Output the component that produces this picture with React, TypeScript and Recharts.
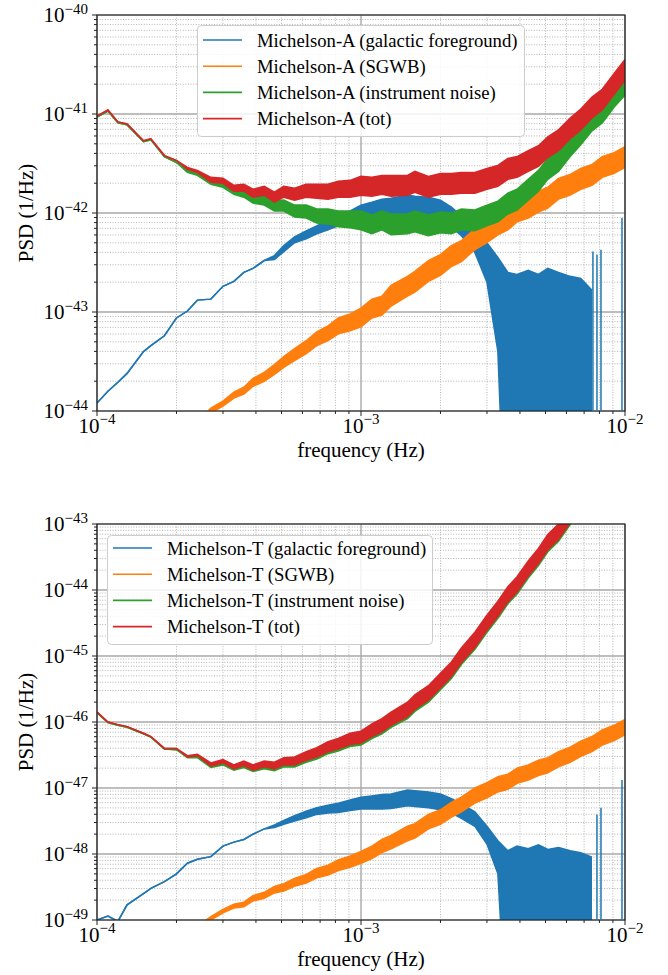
import React from 'react'
import {
  ComposedChart,
  Area,
  XAxis,
  YAxis,
  CartesianGrid,
  ReferenceArea,
  ReferenceLine,
  Legend,
} from 'recharts'

// frequency grid (Hz), shared by every series
const FREQ = [
  1.0e-4, 1.1e-4, 1.2e-4, 1.3e-4, 1.5e-4, 1.6e-4, 1.8e-4, 2.0e-4, 2.2e-4, 2.4e-4,
  2.7e-4, 3.0e-4, 3.3e-4, 3.6e-4, 3.9e-4, 4.3e-4, 4.7e-4, 5.1e-4, 5.6e-4, 6.2e-4,
  6.8e-4, 7.5e-4, 8.2e-4, 9.1e-4, 1.0e-3, 1.1e-3, 1.2e-3, 1.3e-3, 1.5e-3, 1.6e-3,
  1.8e-3, 2.0e-3, 2.2e-3, 2.4e-3, 2.7e-3, 3.0e-3, 3.3e-3, 3.6e-3, 3.9e-3, 4.3e-3,
  4.7e-3, 5.1e-3, 5.6e-3, 6.2e-3, 6.8e-3, 7.5e-3, 8.2e-3, 9.1e-3, 1.0e-2,
]

// values are log10(PSD); up/dn = extent of the noise band above/below, in decades
const RED_A = [
  -41.02, -40.96, -41.08, -41.10, -41.27, -41.25, -41.42, -41.47, -41.55, -41.58,
  -41.66, -41.68, -41.74, -41.75, -41.79, -41.78, -41.83, -41.79, -41.80, -41.78,
  -41.77, -41.79, -41.75, -41.76, -41.73, -41.72, -41.73, -41.71, -41.72, -41.70,
  -41.72, -41.71, -41.70, -41.71, -41.68, -41.66, -41.62, -41.57, -41.52, -41.48,
  -41.42, -41.35, -41.25, -41.15, -41.05, -40.95, -40.84, -40.70, -40.55,
]
const GREEN_A = [
  -41.03, -40.97, -41.09, -41.11, -41.28, -41.26, -41.43, -41.49, -41.58, -41.61,
  -41.68, -41.72, -41.77, -41.81, -41.85, -41.88, -41.92, -41.93, -41.97, -41.99,
  -42.02, -42.04, -42.05, -42.07, -42.08, -42.10, -42.09, -42.10, -42.11, -42.10,
  -42.11, -42.10, -42.10, -42.08, -42.06, -42.03, -41.98, -41.92, -41.85, -41.77,
  -41.67, -41.57, -41.46, -41.33, -41.20, -41.08, -40.97, -40.83, -40.70,
]
const ORANGE_A = [
  null, null, null, null, null, null, null, null, null, -44.12,
  -44.00, -43.92, -43.85, -43.79, -43.72, -43.65, -43.59, -43.50, -43.44, -43.35,
  -43.28, -43.21, -43.15, -43.10, -43.05, -42.98, -42.92, -42.85, -42.74, -42.68,
  -42.60, -42.52, -42.44, -42.37, -42.28, -42.19, -42.12, -42.05, -42.00, -41.94,
  -41.89, -41.83, -41.77, -41.71, -41.66, -41.60, -41.55, -41.49, -41.44,
]
const UP_A = [
  0, 0, 0, 0, 0, 0, 0, 0, 0.01, 0.01,
  0.02, 0.03, 0.02, 0.04, 0.03, 0.05, 0.04, 0.06, 0.05, 0.07,
  0.06, 0.08, 0.07, 0.09, 0.1, 0.08, 0.11, 0.09, 0.1, 0.12,
  0.09, 0.11, 0.1, 0.12, 0.09, 0.11, 0.1, 0.12, 0.09, 0.11,
  0.1, 0.12, 0.09, 0.11, 0.1, 0.12, 0.09, 0.11, 0.1,
]
const DN_A = [
  0, 0, 0, 0, 0, 0, 0, 0, 0.01, 0.01,
  0.03, 0.02, 0.04, 0.03, 0.05, 0.04, 0.06, 0.05, 0.07, 0.06,
  0.08, 0.07, 0.09, 0.08, 0.09, 0.11, 0.08, 0.12, 0.1, 0.09,
  0.12, 0.1, 0.11, 0.09, 0.12, 0.1, 0.11, 0.09, 0.12, 0.1,
  0.11, 0.09, 0.12, 0.1, 0.11, 0.09, 0.12, 0.1, 0.11,
]
const BLUE_A_HI = [
  -43.92, -43.80, -43.71, -43.62, -43.40, -43.34, -43.24, -43.06, -42.99, -42.88,
  -42.87, -42.74, -42.69, -42.60, -42.56, -42.48, -42.43, -42.33, -42.24, -42.18,
  -42.13, -42.07, -42.03, -41.98, -41.92, -41.89, -41.86, -41.85, -41.82, -41.83,
  -41.84, -41.87, -41.94, -42.03, -42.17, -42.30, -42.45, -42.60, -42.62, -42.58,
  -42.62, -42.56, -42.60, -42.64, -42.66, -42.78, null, null, null,
]
const BLUE_A_LO = [
  -43.92, -43.80, -43.71, -43.62, -43.40, -43.34, -43.24, -43.06, -42.99, -42.88,
  -42.87, -42.74, -42.69, -42.60, -42.56, -42.48, -42.47, -42.39, -42.30, -42.26,
  -42.21, -42.17, -42.13, -42.10, -42.08, -42.07, -42.06, -42.05, -42.02, -42.03,
  -42.04, -42.07, -42.14, -42.23, -42.40, -42.70, -43.40, -46, -46, -46,
  -46, -46, -46, -46, -46, -46, null, null, null,
]
const BLUE_A_SPIKE_F = [7.56e-3, 7.83e-3, 8.11e-3, 9.74e-3]
const BLUE_A_SPIKE_TOP = [-42.39, -42.42, -42.37, -42.05]

const RED_T = [
  -45.85, -46.00, -46.04, -46.07, -46.17, -46.22, -46.40, -46.40, -46.52, -46.50,
  -46.64, -46.60, -46.67, -46.63, -46.68, -46.64, -46.65, -46.60, -46.58, -46.52,
  -46.45, -46.38, -46.32, -46.26, -46.22, -46.13, -46.04, -45.96, -45.80, -45.71,
  -45.55, -45.38, -45.19, -45.00, -44.74, -44.50, -44.28, -44.08, -43.90, -43.68,
  -43.48, -43.29, -43.10, -42.87, -42.66, -42.45, -42.26, -42.04, -41.84,
]
const GREEN_T = [
  -45.86, -46.01, -46.05, -46.08, -46.18, -46.23, -46.41, -46.42, -46.53, -46.53,
  -46.66, -46.63, -46.69, -46.66, -46.70, -46.67, -46.68, -46.63, -46.61, -46.55,
  -46.48, -46.41, -46.35, -46.29, -46.25, -46.16, -46.07, -45.99, -45.83, -45.74,
  -45.58, -45.41, -45.22, -45.03, -44.77, -44.53, -44.31, -44.11, -43.93, -43.71,
  -43.51, -43.32, -43.13, -42.90, -42.69, -42.48, -42.29, -42.07, -41.87,
]
const ORANGE_T = [
  null, null, null, null, null, null, null, null, null, -49.10,
  -48.98, -48.86, -48.80, -48.76, -48.68, -48.62, -48.55, -48.50, -48.44, -48.37,
  -48.30, -48.24, -48.18, -48.11, -48.06, -47.97, -47.89, -47.81, -47.70, -47.64,
  -47.52, -47.43, -47.34, -47.24, -47.13, -47.03, -46.95, -46.89, -46.83, -46.76,
  -46.70, -46.64, -46.58, -46.49, -46.41, -46.32, -46.25, -46.16, -46.08,
]
const UP_T = [
  0, 0, 0, 0, 0, 0, 0, 0, 0.01, 0.01,
  0.02, 0.03, 0.02, 0.04, 0.03, 0.05, 0.04, 0.06, 0.05, 0.07,
  0.06, 0.08, 0.07, 0.09, 0.08, 0.1, 0.09, 0.11, 0.1, 0.12,
  0.1, 0.12, 0.1, 0.12, 0.1, 0.12, 0.11, 0.13, 0.1, 0.12,
  0.11, 0.13, 0.1, 0.12, 0.11, 0.13, 0.1, 0.12, 0.11,
]
const DN_T = [
  0, 0, 0, 0, 0, 0, 0, 0, 0.01, 0.01,
  0.03, 0.02, 0.04, 0.03, 0.05, 0.04, 0.06, 0.05, 0.07, 0.06,
  0.08, 0.07, 0.09, 0.08, 0.1, 0.09, 0.11, 0.09, 0.12, 0.1,
  0.12, 0.1, 0.12, 0.1, 0.13, 0.11, 0.12, 0.1, 0.13, 0.11,
  0.12, 0.1, 0.13, 0.11, 0.12, 0.1, 0.13, 0.11, 0.12,
]
const BLUE_T_HI = [
  -49.00, -48.94, -49.02, -48.77, -48.60, -48.52, -48.42, -48.30, -48.14, -48.08,
  -48.04, -47.88, -47.82, -47.78, -47.70, -47.62, -47.56, -47.49, -47.42, -47.35,
  -47.30, -47.26, -47.23, -47.18, -47.14, -47.12, -47.10, -47.09, -47.03, -47.04,
  -47.06, -47.09, -47.16, -47.24, -47.36, -47.58, -47.80, -47.95, -47.88, -47.92,
  -47.86, -47.93, -47.90, -47.95, -47.98, -48.05, null, null, null,
]
const BLUE_T_LO = [
  -49.00, -48.94, -49.02, -48.77, -48.60, -48.52, -48.42, -48.30, -48.14, -48.08,
  -48.04, -47.88, -47.82, -47.78, -47.70, -47.62, -47.60, -47.55, -47.50, -47.45,
  -47.40, -47.38, -47.37, -47.34, -47.32, -47.32, -47.32, -47.31, -47.27, -47.28,
  -47.30, -47.33, -47.38, -47.46, -47.58, -47.85, -48.30, -51, -51, -51,
  -51, -51, -51, -51, -51, -51, null, null, null,
]
const BLUE_T_SPIKE_F = [7.83e-3, 8.11e-3, 9.74e-3]
const BLUE_T_SPIKE_TOP = [-47.40, -47.30, -46.88]

const NAMES_A = [
  'Michelson-A (galactic foreground)',
  'Michelson-A (SGWB)',
  'Michelson-A (instrument noise)',
  'Michelson-A (tot)',
]
const NAMES_T = [
  'Michelson-T (galactic foreground)',
  'Michelson-T (SGWB)',
  'Michelson-T (instrument noise)',
  'Michelson-T (tot)',
]

const X_DECADES = [1e-4, 1e-3, 1e-2]
const Y_DECADES_A = [1e-44, 1e-43, 1e-42, 1e-41, 1e-40]
const Y_DECADES_T = [1e-49, 1e-48, 1e-47, 1e-46, 1e-45, 1e-44, 1e-43]

const COLORS = ['#1f77b4', '#ff7f0e', '#2ca02c', '#d62728']
const KEYS = ['blue', 'orange', 'green', 'red']
const FONT = '"Liberation Serif", "Times New Roman", Times, serif'

const minorOf = (decades: number[]) => {
  const out: number[] = []
  for (let i = 0; i < decades.length - 1; i++) {
    for (let m = 2; m <= 9; m++) out.push(m * decades[i])
  }
  return out
}
const X_MINOR = minorOf(X_DECADES)

const p10 = (e: number) => Math.pow(10, e)
const band = (c: (number | null)[], up: number[], dn: number[], i: number) =>
  c[i] == null ? null : [p10((c[i] as number) - dn[i]), p10((c[i] as number) + up[i])]

function buildRows(blueLo: any[], blueHi: any[], orange: any[], green: any[], red: any[], up: number[], dn: number[]) {
  return FREQ.map((f, i) => ({
    f,
    blue: blueLo[i] == null ? null : [p10(blueLo[i]), p10(blueHi[i])],
    orange: band(orange, dn, up, i),
    green: band(green, up, dn, i),
    red: band(red, up, dn, i),
  }))
}

const ROWS_A = buildRows(BLUE_A_LO, BLUE_A_HI, ORANGE_A, GREEN_A, RED_A, UP_A, DN_A)
const ROWS_T = buildRows(BLUE_T_LO, BLUE_T_HI, ORANGE_T, GREEN_T, RED_T, UP_T, DN_T)

const isDecade = (v: number) => Math.abs(Math.log10(v) - Math.round(Math.log10(v))) < 1e-6

function XTick(props: any) {
  const { x, y, payload } = props
  const v = payload.value as number
  const major = isDecade(v)
  const e = Math.round(Math.log10(v))
  return (
    <g>
      <line x1={x} x2={x} y1={y} y2={y + (major ? 5 : 3)} stroke="#222" strokeWidth={1} />
      {major && (
        <text x={x} y={y + 22} textAnchor="middle" fontFamily={FONT} fontSize={21} fill="#000">
          10<tspan dy={-9} fontSize={15}>{'\u2212' + -e}</tspan>
        </text>
      )}
    </g>
  )
}

function YTick(props: any) {
  const { x, y, payload } = props
  const v = payload.value as number
  const major = isDecade(v)
  const e = Math.round(Math.log10(v))
  return (
    <g>
      <line x1={x} x2={x - (major ? 5 : 3)} y1={y} y2={y} stroke="#222" strokeWidth={1} />
      {major && (
        <text x={x - 9} y={y + 7} textAnchor="end" fontFamily={FONT} fontSize={21} fill="#000">
          10<tspan dy={-8} fontSize={15}>{'\u2212' + -e}</tspan>
        </text>
      )}
    </g>
  )
}

function LegendBox({ names, width, height, first }: { names: string[]; width: number; height: number; first: number }) {
  return (
    <svg width={width} height={height} style={{ display: 'block' }}>
      <rect x={0.5} y={0.5} width={width - 1} height={height - 1} rx={4} fill="#fff" fillOpacity={0.85} stroke="#cccccc" />
      {names.map((n, i) => (
        <g key={n}>
          <line x1={6} x2={45} y1={first + i * 26.2} y2={first + i * 26.2} stroke={COLORS[i]} strokeWidth={1.6} />
          <text x={60} y={first + i * 26.2 + 6.5} fontFamily={FONT} fontSize={18.7} fill="#000">
            {n}
          </text>
        </g>
      ))}
    </svg>
  )
}

type PanelProps = {
  rows: any[]
  yDecades: number[]
  spikeF: number[]
  spikeTop: number[]
  names: string[]
  legend: { left: number; top: number; width: number; height: number; first: number }
  height: number
  marginTop: number
  marginBottom: number
}

function PsdPanel({ rows, yDecades, spikeF, spikeTop, names, legend, height, marginTop, marginBottom }: PanelProps) {
  const yMinor = minorOf(yDecades)
  const yMin = yDecades[0]
  const yMax = yDecades[yDecades.length - 1]
  return (
    <ComposedChart
      width={668}
      height={height}
      data={rows}
      margin={{ top: marginTop, right: 43, bottom: marginBottom, left: 37 }}
    >
      <CartesianGrid horizontalValues={yMinor} verticalValues={X_MINOR} stroke="#b4b4b4" strokeWidth={1} strokeDasharray="1 1.6" />
      <CartesianGrid horizontalValues={yDecades} verticalValues={X_DECADES} stroke="#a8a8a8" strokeWidth={1.4} />
      <XAxis
        dataKey="f"
        type="number"
        scale="log"
        domain={[1e-4, 1e-2]}
        allowDataOverflow
        ticks={[...X_DECADES, ...X_MINOR]}
        interval={0}
        tickSize={0}
        tickMargin={0}
        axisLine={false}
        tickLine={false}
        tick={<XTick />}
        height={30}
        label={(p: any) => (
          <text
            x={p.viewBox.x + p.viewBox.width / 2}
            y={p.viewBox.y + 46}
            textAnchor="middle"
            fontFamily={FONT}
            fontSize={21}
            fill="#000"
          >
            frequency (Hz)
          </text>
        )}
      />
      <YAxis
        type="number"
        scale="log"
        domain={[yMin, yMax]}
        allowDataOverflow
        ticks={[...yDecades, ...yMinor]}
        interval={0}
        tickSize={0}
        tickMargin={0}
        axisLine={false}
        tickLine={false}
        tick={<YTick />}
        width={60}
        label={(p: any) => {
          const cx = p.viewBox.x - 4
          const cy = p.viewBox.y + p.viewBox.height / 2
          return (
            <text
              x={cx}
              y={cy}
              transform={`rotate(-90, ${cx}, ${cy})`}
              textAnchor="middle"
              fontFamily={FONT}
              fontSize={21}
              fill="#000"
            >
              PSD (1/Hz)
            </text>
          )
        }}
      />
      {KEYS.map((k, i) => (
        <Area
          key={k}
          dataKey={k}
          type="linear"
          stroke={COLORS[i]}
          strokeWidth={1.5}
          fill={COLORS[i]}
          fillOpacity={1}
          connectNulls={false}
          dot={false}
          activeDot={false}
          isAnimationActive={false}
        />
      ))}
      {spikeF.map((f, i) => (
        <ReferenceLine
          key={'s' + i}
          segment={[
            { x: f, y: yMin },
            { x: f, y: p10(spikeTop[i]) },
          ]}
          stroke={COLORS[0]}
          strokeWidth={1.5}
        />
      ))}
      <ReferenceArea x1={1e-4} x2={1e-2} y1={yMin} y2={yMax} fill="none" stroke="#1a1a1a" strokeWidth={1.2} />
      <Legend
        layout="vertical"
        align="center"
        verticalAlign="middle"
        wrapperStyle={{ left: legend.left, top: legend.top, width: legend.width, height: legend.height }}
        content={() => <LegendBox names={names} width={legend.width} height={legend.height} first={legend.first} />}
      />
    </ComposedChart>
  )
}

export default function App() {
  return (
    <div style={{ position: 'relative', width: 668, height: 975, background: '#fff' }}>
      <style>{'body{margin:0}'}</style>
      <div style={{ position: 'absolute', left: 0, top: 0 }}>
        <PsdPanel
          rows={ROWS_A}
          yDecades={Y_DECADES_A}
          spikeF={BLUE_A_SPIKE_F}
          spikeTop={BLUE_A_SPIKE_TOP}
          names={NAMES_A}
          legend={{ left: 197, top: 25, width: 328, height: 112, first: 15 }}
          height={480}
          marginTop={15}
          marginBottom={39}
        />
      </div>
      <div style={{ position: 'absolute', left: 0, top: 500 }}>
        <PsdPanel
          rows={ROWS_T}
          yDecades={Y_DECADES_T}
          spikeF={BLUE_T_SPIKE_F}
          spikeTop={BLUE_T_SPIKE_TOP}
          names={NAMES_T}
          legend={{ left: 107, top: 35, width: 326, height: 110, first: 13 }}
          height={475}
          marginTop={24}
          marginBottom={25}
        />
      </div>
    </div>
  )
}
